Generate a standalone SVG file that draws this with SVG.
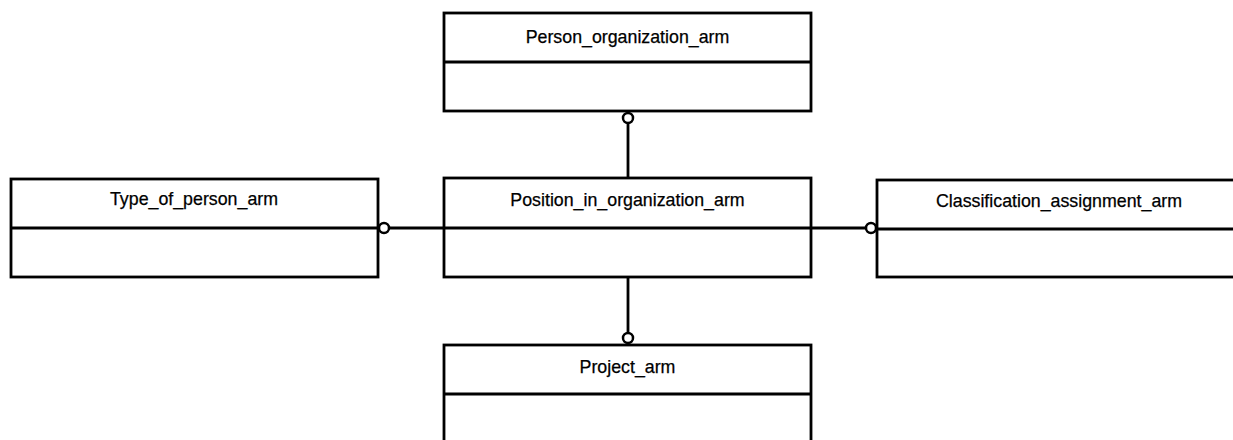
<svg xmlns="http://www.w3.org/2000/svg" width="1233" height="440" viewBox="0 0 1233 440">
<style>
.box{fill:#fff;stroke:#000;stroke-width:2.8}
.div{stroke:#000;stroke-width:2.8}
.lbl{font-family:"Liberation Sans",Arial,sans-serif;font-size:17.8px;text-anchor:middle;fill:#000;stroke:#000;stroke-width:0.25}
.con{stroke:#000;stroke-width:2.8;fill:none}
.dot{fill:#fff;stroke:#000;stroke-width:2.5}
</style>
<rect width="1233" height="440" fill="#fff"/>
<g id="connectors">
<line class="con" x1="628" y1="123" x2="628" y2="178"/>
<line class="con" x1="389" y1="228" x2="866" y2="228"/>
<line class="con" x1="628" y1="277" x2="628" y2="333"/>
</g>
<g id="person_organization_arm">
<rect class="box" x="444" y="13" width="367" height="98"/>
<line class="div" x1="444" y1="62" x2="811" y2="62"/>
<text class="lbl" x="627.5" y="43">Person_organization_arm</text>
</g>
<g id="position_in_organization_arm">
<rect class="box" x="444" y="178" width="367" height="99"/>
<line class="div" x1="444" y1="228" x2="811" y2="228"/>
<text class="lbl" x="627.5" y="206">Position_in_organization_arm</text>
</g>
<g id="type_of_person_arm">
<rect class="box" x="11" y="179" width="367" height="98"/>
<line class="div" x1="11" y1="228" x2="378" y2="228"/>
<text class="lbl" x="194" y="205">Type_of_person_arm</text>
</g>
<g id="classification_assignment_arm">
<rect class="box" x="877" y="180" width="367" height="97"/>
<line class="div" x1="877" y1="229" x2="1244" y2="229"/>
<text class="lbl" x="1059" y="207">Classification_assignment_arm</text>
</g>
<g id="project_arm">
<rect class="box" x="444" y="345" width="367" height="110"/>
<line class="div" x1="444" y1="394" x2="811" y2="394"/>
<text class="lbl" x="627.5" y="373">Project_arm</text>
</g>
<g id="ends">
<circle class="dot" cx="628" cy="118" r="5"/>
<circle class="dot" cx="384" cy="228" r="5"/>
<circle class="dot" cx="871" cy="228" r="5"/>
<circle class="dot" cx="628" cy="338" r="5"/>
</g>
</svg>
